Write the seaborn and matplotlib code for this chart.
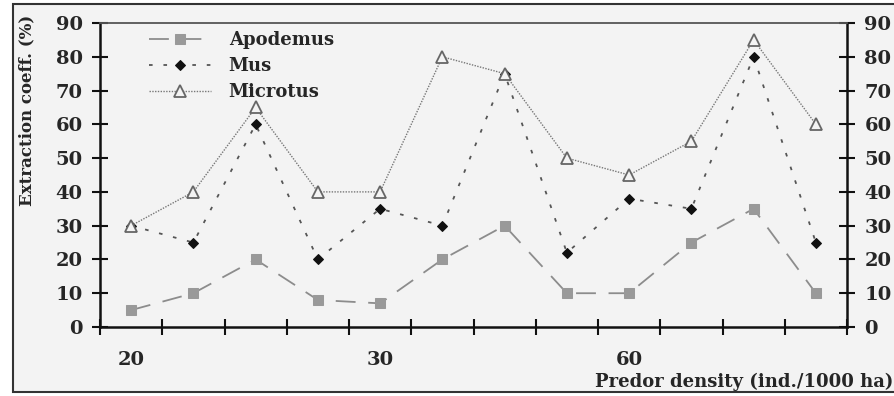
import matplotlib
matplotlib.use("Agg")
import matplotlib.pyplot as plt
import seaborn as sns
import numpy as np
import pandas as pd
from matplotlib.patches import Rectangle

categories = list(range(12))
apodemus = [5, 10, 20, 8, 7, 20, 30, 10, 10, 25, 35, 10]
mus = [30, 25, 60, 20, 35, 30, 75, 22, 38, 35, 80, 25]
microtus = [30, 40, 65, 40, 40, 80, 75, 50, 45, 55, 85, 60]
xtick_pos = [0, 4, 8]
xtick_labels = ["20", "30", "60"]
yticks = [0, 10, 20, 30, 40, 50, 60, 70, 80, 90]

sns.set_theme(style="white")
plt.rcParams['font.family'] = ['DejaVu Serif']
plt.rcParams['font.weight'] = 'bold'

fig = plt.figure(figsize=(8.94, 3.96), dpi=100, facecolor="white")
fig.patches.append(Rectangle((13/894, 4/396), 1.0, 388/396, transform=fig.transFigure,
                             facecolor="#f3f3f3", edgecolor="#333333", linewidth=1.5, zorder=-10))
ax = fig.add_axes([100/894, 1-327/396, 747/894, 304/396])
ax.set_facecolor("#f3f3f3")

df = pd.DataFrame({"x": categories, "Apodemus": apodemus, "Mus": mus, "Microtus": microtus})

sns.lineplot(data=df, x="x", y="Apodemus", ax=ax, color="#8c8c8c", linewidth=1.3,
             marker="s", markersize=7, markerfacecolor="#999999", markeredgecolor="#999999",
             label="Apodemus")
ax.lines[-1].set_dashes((11, 7))
sns.lineplot(data=df, x="x", y="Mus", ax=ax, color="#555555", linewidth=1.3,
             marker="D", markersize=5, markerfacecolor="#111111", markeredgecolor="#111111",
             label="Mus")
ax.lines[-1].set_dashes((2, 6))
sns.lineplot(data=df, x="x", y="Microtus", ax=ax, color="#777777", linewidth=1.0,
             marker="^", markersize=9, markerfacecolor="#f3f3f3", markeredgecolor="#666666",
             markeredgewidth=1.3, label="Microtus")
ax.lines[-1].set_dashes((1, 1))

ax.set_xlim(-0.5, 11.5)
ax.set_ylim(0, 90)
ax.set_xticks(np.arange(-0.5, 12, 1))
ax.set_xticklabels([])
ax.set_xticks(xtick_pos, minor=True)
ax.set_xticklabels(xtick_labels, minor=True, fontsize=14, fontweight="bold")
ax.tick_params(axis="x", which="major", direction="inout", length=11, width=1.5, color="#111111",
               bottom=True)
ax.tick_params(axis="x", which="minor", length=0, pad=17, bottom=True)
ax.set_yticks(yticks)
ax.set_yticklabels([str(v) for v in yticks], fontsize=14, fontweight="bold")
ax.tick_params(axis="y", which="major", direction="inout", length=11, width=1.5, color="#111111",
               left=True, right=True, labelleft=True, labelright=True, pad=7)
for s in ["left", "right", "bottom"]:
    ax.spines[s].set_color("#111111")
    ax.spines[s].set_linewidth(1.8)
ax.spines["top"].set_color("#555555")
ax.spines["top"].set_linewidth(1.3)

ax.set_xlabel("")
ax.set_ylabel("Extraction coeff. (%)", fontsize=12, fontweight="bold")
ax.yaxis.set_label_coords(-0.087, 0.714)

fig.text(893/894, 1-387/396, "Predor density (ind./1000 ha)", ha="right", va="baseline",
         fontsize=13, fontweight="bold")

leg = ax.legend(loc="upper left", bbox_to_anchor=(0.055, 1.0), frameon=False, fontsize=13,
                handlelength=3.4, handletextpad=1.0, labelspacing=0.45, borderaxespad=0.05)
for t in leg.get_texts():
    t.set_fontweight("bold")

fig.savefig("out.png", dpi=100, facecolor="white")
